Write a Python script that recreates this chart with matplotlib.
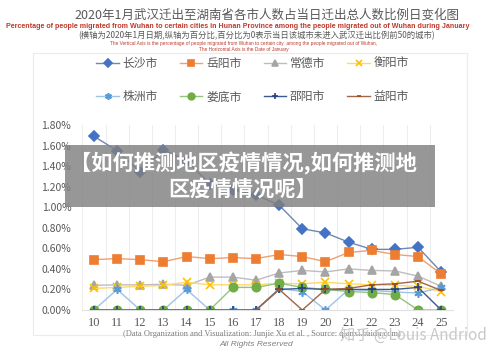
import matplotlib
matplotlib.use('Agg')
import matplotlib.pyplot as plt
from matplotlib.patches import Rectangle
from matplotlib.ticker import FuncFormatter

plt.rcParams['font.family'] = ['Noto Sans CJK SC', 'DejaVu Sans']

days = list(range(10, 26))
changsha = [1.69, 1.55, 1.34, 1.56, 1.45, 1.23, 1.17, 1.12, 1.02, 0.79, 0.75, 0.66, 0.59, 0.59, 0.61, 0.37]
yueyang = [0.49, 0.50, 0.49, 0.47, 0.52, 0.50, 0.51, 0.50, 0.54, 0.52, 0.47, 0.56, 0.58, 0.54, 0.52, 0.35]
changde = [0.24, 0.245, 0.245, 0.25, 0.24, 0.32, 0.32, 0.29, 0.36, 0.385, 0.37, 0.40, 0.385, 0.38, 0.33, 0.23]
hengyang = [0.21, 0.22, 0.23, 0.24, 0.27, 0.245, 0.245, 0.245, 0.26, 0.255, 0.27, 0.255, 0.245, 0.24, 0.23, 0.18]
zhuzhou = [0, 0.20, 0, 0, 0.20, 0, 0, 0, 0.21, 0.18, 0, 0.20, 0.19, 0.175, 0.165, 0.22]
loudi = [0, 0, 0, 0, 0, 0, 0.22, 0.22, 0.26, 0.22, 0.20, 0.18, 0.17, 0.15, 0, 0]
shaoyang = [0, 0, 0, 0, 0, 0, 0, 0, 0.20, 0.21, 0.20, 0.20, 0.20, 0.20, 0.22, 0]
yiyang = [0, 0, 0, 0, 0, 0, 0, 0, 0.20, 0, 0.20, 0.21, 0.245, 0.255, 0.28, 0.19]

names = ['长沙市', '岳阳市', '常德市', '衡阳市', '株洲市', '娄底市', '邵阳市', '益阳市']
series = [changsha, yueyang, changde, hengyang, zhuzhou, loudi, shaoyang, yiyang]
colors = ['#4472C4', '#ED7D31', '#A5A5A5', '#FFC000', '#5B9BD5', '#70AD47', '#264478', '#9E480E']
line_colors = ['#6f88b0', '#f0a070', '#bdbdbd', '#ffd966', '#9dc3e6', '#93c47d', '#3c5a8c', '#a0664a']
markers = ['D', 's', '^', 'x', (6, 2, 0), 'o', '+', '_']
msizes = [5, 6, 6, 6, 6, 6, 6, 4]

fig = plt.figure(figsize=(5, 3.53), dpi=100)
W, H = 500, 353

def fx(px):
    return px / W

def fy(py):
    return 1 - py / H

# faint outer frame of the chart
fig.patches.append(Rectangle((fx(33), fy(335)), fx(467) - fx(33), fy(53) - fy(335),
                             transform=fig.transFigure, fill=False, ec='#ebebeb', lw=0.8))

ax = fig.add_axes([fx(82.4), fy(310), fx(452.8) - fx(82.4), fy(125) - fy(310)])
handles = []
for vals, name, c, lc, m, ms in zip(series, names, colors, line_colors, markers, msizes):
    h, = ax.plot(days, vals, color=lc, lw=1.0, marker=m, markersize=ms,
                 markerfacecolor=c, markeredgecolor=c, markeredgewidth=1.2, label=name)
    handles.append(h)

ax.set_xlim(9.5, 25.5)
ax.set_ylim(0, 1.8)
ax.set_yticks([i * 0.2 for i in range(10)])
ax.yaxis.set_major_formatter(FuncFormatter(lambda v, p: '{:.2f}%'.format(v)))
ax.set_xticks(days)
ax.set_xticklabels([str(d) for d in days], family='Liberation Serif', fontsize=9)
ax.set_xticks([d + 0.5 for d in range(9, 26)], minor=True)
ax.grid(which='minor', axis='x', color='#eeeeee', lw=0.8)
ax.tick_params(which='both', length=0)
ax.tick_params(axis='y', labelsize=7.5, colors='#595959', pad=8)
ax.tick_params(axis='x', colors='#595959', pad=5)
for s in ['top', 'right', 'left']:
    ax.spines[s].set_visible(False)
ax.spines['bottom'].set_color('#e0e0e0')

# legend fills column by column, so reorder to read row by row
order = [0, 4, 1, 5, 2, 6, 3, 7]
fig.legend(handles=[handles[i] for i in order], loc='center', bbox_to_anchor=(0.505, fy(80)), ncol=4,
           frameon=False, fontsize=8.5, labelcolor='#595959', handlelength=1.9,
           handletextpad=0.3, columnspacing=1.9, labelspacing=1.75, markerscale=0.8)

# titles
fig.text(fx(267), fy(15), '2020年1月武汉迁出至湖南省各市人数占当日迁出总人数比例日变化图',
         ha='center', va='center', fontsize=9, color='#595959')
fig.text(fx(238), fy(27), 'Percentage of people migrated from Wuhan to certain cities in Hunan Province '
         'among the people migrated out of Wuhan during January',
         ha='center', va='center', fontsize=5.1, color='#c0392b', fontweight='bold',
         family='Liberation Sans')
fig.text(fx(257), fy(36), '(横轴为2020年1月日期,纵轴为百分比,百分比为0表示当日该城市未进入武汉迁出比例前50的城市)',
         ha='center', va='center', fontsize=6, color='#595959')
fig.text(fx(243), fy(43), 'The Vertical Axis is the percentage of people migrated from Wuhan to certain city  '
         'among the people migrated out of Wuhan,',
         ha='center', va='center', fontsize=3.4, color='#c0392b', family='Liberation Sans')
fig.text(fx(244), fy(49.5), 'The Horizontal Axis is the Date of January',
         ha='center', va='center', fontsize=3.4, color='#c0392b', family='Liberation Sans')

# bottom notes
fig.text(fx(262), fy(334), '(Data Organization and Visualization: Junjie Xu et al. , Source: qianxi.baidu.com)',
         ha='center', va='center', fontsize=6, color='#7f7f7f', family='Liberation Serif')
fig.text(fx(256), fy(345), 'All Rights Reserved', ha='center', va='center', fontsize=6,
         color='#7f7f7f', style='italic', family='Liberation Sans')

# overlay banner
fig.patches.append(Rectangle((fx(65), fy(207)), fx(435) - fx(65), fy(145) - fy(207),
                             transform=fig.transFigure, fc='#808080', alpha=0.82, ec='none', zorder=10))
fig.text(fx(243), fy(176), '【如何推测地区疫情情况,如何推测地\n区疫情情况呢】', ha='center', va='center',
         fontsize=15.3, color='white', fontweight='bold', linespacing=1.2, zorder=11)

# watermark
fig.text(fx(413), fy(335), '知乎 @Louis Andriod', ha='center', va='center', fontsize=11,
         color='#c8c8c8', zorder=11)

fig.savefig('out.png', dpi=100, facecolor='white')
